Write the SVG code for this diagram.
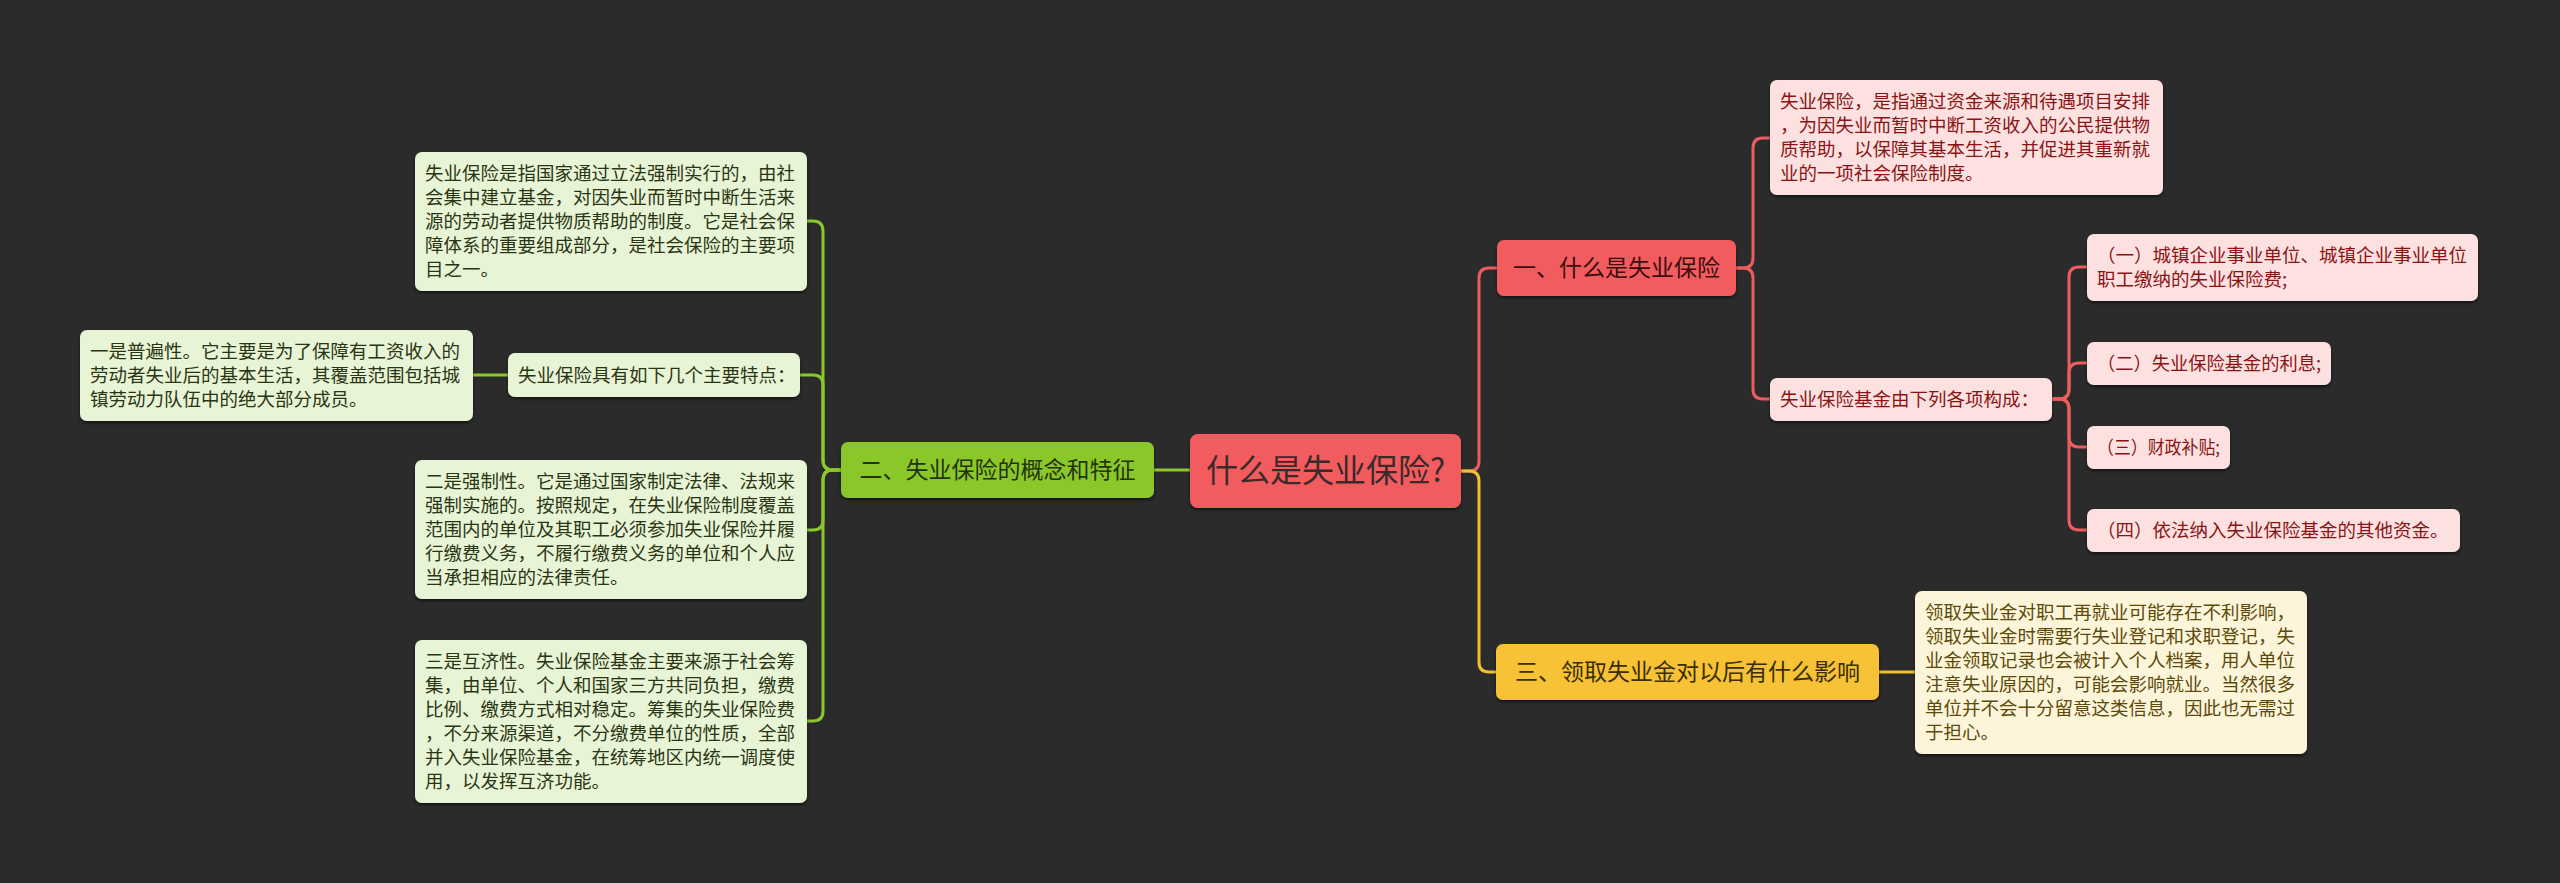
<svg xmlns="http://www.w3.org/2000/svg" width="2560" height="883" viewBox="0 0 2560 883">
<defs>
<filter id="sh" x="-5%" y="-10%" width="110%" height="130%">
<feDropShadow dx="0" dy="2" stdDeviation="1.5" flood-color="#000" flood-opacity="0.55"/>
</filter>
<style>
text{font-family:"Noto Sans CJK SC","Noto Sans",sans-serif;}
.leaf{font-size:18.5px;}
.l1{font-size:23px;text-anchor:middle;}
.root{font-size:32px;text-anchor:middle;fill:#3a2a2a;}
.gbox{fill:#e8f4d6;filter:url(#sh);}
.gtxt{fill:#2a3514;}
.pbox{fill:#fde1e1;filter:url(#sh);}
.ptxt{fill:#8a1414;}
.ybox{fill:#fdf5da;filter:url(#sh);}
.ytxt{fill:#5c4a0a;}
.cg{fill:none;stroke:#8ac82b;stroke-width:3;}
.cr{fill:none;stroke:#ec5d5f;stroke-width:3;}
.cy{fill:none;stroke:#f0c030;stroke-width:3;}
</style>
</defs>
<rect width="2560" height="883" fill="#2b2b2b"/>

<g id="connectors">
<path class="cg" d="M1190 470 H1154"/>
<path class="cg" d="M841 470 H833 Q823 470 823 460 V231 Q823 221 813 221 H807"/>
<path class="cg" d="M841 470 H833 Q823 470 823 460 V385 Q823 375 813 375 H800"/>
<path class="cg" d="M841 470 H833 Q823 470 823 480 V520 Q823 530 813 530 H807"/>
<path class="cg" d="M841 470 H833 Q823 470 823 480 V711 Q823 721 813 721 H807"/>
<path class="cg" d="M508 375 H473"/>
<path class="cr" d="M1461 471 H1469 Q1479 471 1479 461 V278 Q1479 268 1489 268 H1497"/>
<path class="cy" d="M1461 471 H1469 Q1479 471 1479 481 V662 Q1479 672 1489 672 H1496"/>
<path class="cr" d="M1736 268 H1743 Q1753 268 1753 258 V148 Q1753 138 1763 138 H1770"/>
<path class="cr" d="M1736 268 H1743 Q1753 268 1753 278 V389 Q1753 399 1763 399 H1770"/>
<path class="cr" d="M2052 399 H2059 Q2069 399 2069 389 V277 Q2069 267 2079 267 H2087"/>
<path class="cr" d="M2052 399 H2059 Q2069 399 2069 389 V373 Q2069 363 2079 363 H2087"/>
<path class="cr" d="M2052 399 H2059 Q2069 399 2069 409 V437 Q2069 447 2079 447 H2087"/>
<path class="cr" d="M2052 399 H2059 Q2069 399 2069 409 V520 Q2069 530 2079 530 H2087"/>
<path class="cy" d="M1879 672 H1915"/>
</g>

<g id="root">
<rect x="1190" y="434" width="271" height="74" rx="8" fill="#f25b5e" filter="url(#sh)"/>
<text class="root" x="1325.5" y="482">什么是失业保险?</text>
</g>

<g id="n-green">
<rect x="841" y="442" width="313" height="56" rx="7" fill="#8ac82b" filter="url(#sh)"/>
<text class="l1" x="997.5" y="478" fill="#25320c">二、失业保险的概念和特征</text>
</g>

<g id="n-red">
<rect x="1497" y="240" width="239" height="56" rx="7" fill="#f25b5e" filter="url(#sh)"/>
<text class="l1" x="1616.5" y="276" fill="#3a0e0e">一、什么是失业保险</text>
</g>

<g id="n-yellow">
<rect x="1496" y="644" width="383" height="56" rx="7" fill="#f7c234" filter="url(#sh)"/>
<text class="l1" x="1687.5" y="680" fill="#3a2e00">三、领取失业金对以后有什么影响</text>
</g>

<g id="g-def">
<rect class="gbox" x="415" y="152" width="392" height="139" rx="7"/>
<text class="leaf gtxt">
<tspan x="425" y="180">失业保险是指国家通过立法强制实行的，由社</tspan>
<tspan x="425" y="204">会集中建立基金，对因失业而暂时中断生活来</tspan>
<tspan x="425" y="228">源的劳动者提供物质帮助的制度。它是社会保</tspan>
<tspan x="425" y="252">障体系的重要组成部分，是社会保险的主要项</tspan>
<tspan x="425" y="276">目之一。</tspan>
</text>
</g>

<g id="g-feat">
<rect class="gbox" x="508" y="353" width="292" height="44" rx="7"/>
<text class="leaf gtxt" x="518" y="381.5">失业保险具有如下几个主要特点：</text>
</g>

<g id="g-one">
<rect class="gbox" x="80" y="330" width="393" height="91" rx="7"/>
<text class="leaf gtxt">
<tspan x="90" y="358">一是普遍性。它主要是为了保障有工资收入的</tspan>
<tspan x="90" y="382">劳动者失业后的基本生活，其覆盖范围包括城</tspan>
<tspan x="90" y="406">镇劳动力队伍中的绝大部分成员。</tspan>
</text>
</g>

<g id="g-two">
<rect class="gbox" x="415" y="460" width="392" height="139" rx="7"/>
<text class="leaf gtxt">
<tspan x="425" y="488">二是强制性。它是通过国家制定法律、法规来</tspan>
<tspan x="425" y="512">强制实施的。按照规定，在失业保险制度覆盖</tspan>
<tspan x="425" y="536">范围内的单位及其职工必须参加失业保险并履</tspan>
<tspan x="425" y="560">行缴费义务，不履行缴费义务的单位和个人应</tspan>
<tspan x="425" y="584">当承担相应的法律责任。</tspan>
</text>
</g>

<g id="g-three">
<rect class="gbox" x="415" y="640" width="392" height="163" rx="7"/>
<text class="leaf gtxt">
<tspan x="425" y="668">三是互济性。失业保险基金主要来源于社会筹</tspan>
<tspan x="425" y="692">集，由单位、个人和国家三方共同负担，缴费</tspan>
<tspan x="425" y="716">比例、缴费方式相对稳定。筹集的失业保险费</tspan>
<tspan x="425" y="740">，不分来源渠道，不分缴费单位的性质，全部</tspan>
<tspan x="425" y="764">并入失业保险基金，在统筹地区内统一调度使</tspan>
<tspan x="425" y="788">用，以发挥互济功能。</tspan>
</text>
</g>

<g id="p-def">
<rect class="pbox" x="1770" y="80" width="393" height="115" rx="7"/>
<text class="leaf ptxt">
<tspan x="1780" y="108">失业保险，是指通过资金来源和待遇项目安排</tspan>
<tspan x="1780" y="132">，为因失业而暂时中断工资收入的公民提供物</tspan>
<tspan x="1780" y="156">质帮助，以保障其基本生活，并促进其重新就</tspan>
<tspan x="1780" y="180">业的一项社会保险制度。</tspan>
</text>
</g>

<g id="p-fund">
<rect class="pbox" x="1770" y="378" width="282" height="43" rx="7"/>
<text class="leaf ptxt" x="1780" y="406">失业保险基金由下列各项构成：</text>
</g>

<g id="p-1">
<rect class="pbox" x="2087" y="234" width="391" height="67" rx="7"/>
<text class="leaf ptxt">
<tspan x="2097" y="262">（一）城镇企业事业单位、城镇企业事业单位</tspan>
<tspan x="2097" y="286">职工缴纳的失业保险费;</tspan>
</text>
</g>

<g id="p-2">
<rect class="pbox" x="2087" y="342" width="244" height="43" rx="7"/>
<text class="leaf ptxt" x="2097" y="370" textLength="224" lengthAdjust="spacingAndGlyphs">（二）失业保险基金的利息;</text>
</g>

<g id="p-3">
<rect class="pbox" x="2087" y="426" width="143" height="43" rx="7"/>
<text class="leaf ptxt" x="2097" y="454" textLength="123" lengthAdjust="spacingAndGlyphs">（三）财政补贴;</text>
</g>

<g id="p-4">
<rect class="pbox" x="2087" y="509" width="373" height="43" rx="7"/>
<text class="leaf ptxt" x="2097" y="537">（四）依法纳入失业保险基金的其他资金。</text>
</g>

<g id="y-leaf">
<rect class="ybox" x="1915" y="591" width="392" height="163" rx="7"/>
<text class="leaf ytxt">
<tspan x="1925" y="619">领取失业金对职工再就业可能存在不利影响，</tspan>
<tspan x="1925" y="643">领取失业金时需要行失业登记和求职登记，失</tspan>
<tspan x="1925" y="667">业金领取记录也会被计入个人档案，用人单位</tspan>
<tspan x="1925" y="691">注意失业原因的，可能会影响就业。当然很多</tspan>
<tspan x="1925" y="715">单位并不会十分留意这类信息，因此也无需过</tspan>
<tspan x="1925" y="739">于担心。</tspan>
</text>
</g>
</svg>
